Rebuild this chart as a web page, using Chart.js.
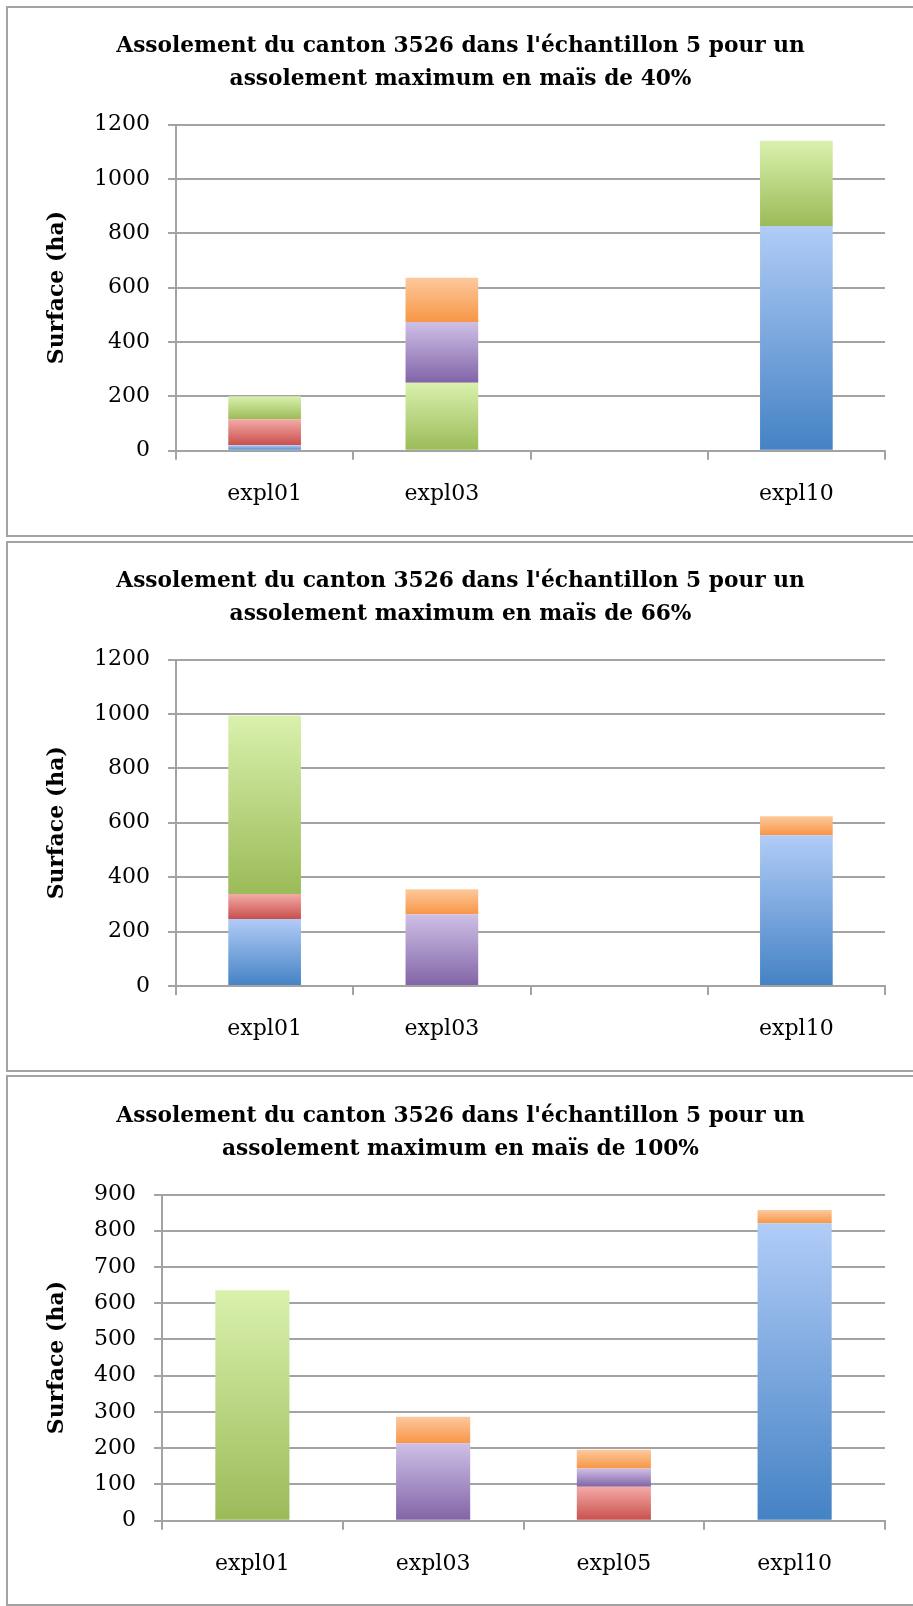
<!DOCTYPE html>
<html>
<head>
<meta charset="utf-8">
<script src="https://cdn.jsdelivr.net/npm/chart.js@4.4.0/dist/chart.umd.min.js"></script>
<style>
  body { margin: 0; background: #fff; width: 913px; height: 1606px; overflow: hidden; position: relative; }
  .panel { position: absolute; left: 6px; width: 905px; height: 527px; border: 2px solid #a3a3a3; background: #fff; }
  .panel canvas { display: block; }
</style>
</head>
<body>
<div class="panel" style="top:6px"><canvas id="chart40" width="905" height="527"></canvas></div>
<div class="panel" style="top:541px"><canvas id="chart66" width="905" height="527"></canvas></div>
<div class="panel" style="top:1075px"><canvas id="chart100" width="905" height="527"></canvas></div>

<script>
// series (no legend in the original, bottom to top of each stack)
const seriesNames = ['Série 1', 'Série 2', 'Série 3', 'Série 4', 'Série 5'];

// max 40% maize
const cats40 = ['expl01', 'expl03', '', 'expl10'];
const blue40 = [20, 0, 0, 827];
const red40 = [96, 0, 0, 0];
const green40 = [84, 250, 0, 313];
const purple40 = [0, 223, 0, 0];
const orange40 = [0, 163, 0, 0];

// max 66% maize
const cats66 = ['expl01', 'expl03', '', 'expl10'];
const blue66 = [246, 0, 0, 554];
const red66 = [92, 0, 0, 0];
const green66 = [656, 0, 0, 0];
const purple66 = [0, 263, 0, 0];
const orange66 = [0, 92, 0, 70];

// max 100% maize
const cats100 = ['expl01', 'expl03', 'expl05', 'expl10'];
const blue100 = [0, 0, 0, 821];
const red100 = [0, 0, 94, 0];
const green100 = [636, 0, 0, 0];
const purple100 = [0, 214, 50, 0];
const orange100 = [0, 73, 52, 36];

// y axis ticks
const yTicks1200 = [0, 200, 400, 600, 800, 1000, 1200];
const yTicks900 = [0, 100, 200, 300, 400, 500, 600, 700, 800, 900];

// light (top) / dark (bottom) colour of each series
const fills = [
    ['#b1ccf7', '#4482c4'],
    ['#f4aba8', '#c84f4c'],
    ['#d9f1ad', '#9bbb58'],
    ['#cec0e6', '#8264a7'],
    ['#fdc99d', '#f79646']
];

const gridGray = '#a3a3a3';

// vertical gradient over each stacked segment
function segmentFill(pair) {
    return (ctx) => {
        const chart = ctx.chart;
        const y = chart.scales.y;
        if (ctx.type !== 'data' || !y) return pair[1];
        let base = 0;
        for (let k = 0; k < ctx.datasetIndex; k++) {
            base += chart.data.datasets[k].data[ctx.dataIndex] || 0;
        }
        const top = y.getPixelForValue(base + (ctx.raw || 0));
        const bottom = y.getPixelForValue(base);
        if (!isFinite(top) || !isFinite(bottom) || top === bottom) return pair[1];
        const g = chart.ctx.createLinearGradient(0, top, 0, bottom);
        g.addColorStop(0, pair[0]);
        g.addColorStop(1, pair[1]);
        return g;
    };
}

function createChart(id, titleLines, cats, values, yTicks, box) {
    const datasets = values.map((vals, i) => ({
        label: seriesNames[i],
        data: vals,
        backgroundColor: segmentFill(fills[i]),
        borderWidth: 0,
        barPercentage: 0.41,
        categoryPercentage: 1
    }));

    return new Chart(document.getElementById(id), {
        type: 'bar',
        data: { labels: cats, datasets: datasets },
        options: {
            responsive: false,
            animation: false,
            layout: { padding: 0 },
            plugins: {
                legend: { display: false },
                tooltip: { enabled: false },
                title: {
                    display: true,
                    text: titleLines,
                    color: '#000',
                    font: { family: 'DejaVu Serif', size: 21.7, weight: 'bold', lineHeight: 1.5 },
                    padding: { top: box.titleTop, bottom: box.top - box.titleTop - 2 * 21.7 * 1.5 }
                }
            },
            scales: {
                x: {
                    stacked: true,
                    grid: { display: true, drawOnChartArea: false, drawTicks: true, tickLength: 9, color: gridGray, lineWidth: 2, offset: true },
                    border: { display: true, color: gridGray, width: 2 },
                    ticks: { color: '#000', padding: 21, font: { family: 'DejaVu Serif', size: 22 } },
                    afterFit: (scale) => { scale.height = 527 - box.bottom; }
                },
                y: {
                    stacked: true,
                    min: yTicks[0],
                    max: yTicks[yTicks.length - 1],
                    ticks: {
                        stepSize: yTicks[1] - yTicks[0],
                        color: '#000',
                        padding: 18,
                        font: { family: 'DejaVu Serif', size: 22 },
                        callback: (v) => String(v)
                    },
                    grid: { color: gridGray, lineWidth: 2, tickLength: 8 },
                    border: { display: true, color: gridGray, width: 2 },
                    title: {
                        display: true,
                        text: 'Surface (ha)',
                        color: '#000',
                        font: { family: 'DejaVu Serif', size: 22, weight: 'bold', lineHeight: 1.2 },
                        padding: { top: 36, bottom: 0 }
                    },
                    afterFit: (scale) => { scale.width = box.left; }
                },
                // empty right margin so the title stays centred on the whole panel
                yRight: {
                    type: 'linear',
                    position: 'right',
                    display: true,
                    grid: { display: false },
                    border: { display: false },
                    ticks: { display: false },
                    afterFit: (scale) => { scale.width = 905 - box.right; }
                }
            }
        }
    });
}

createChart('chart40',
    ["Assolement du canton 3526 dans l'échantillon 5 pour un", 'assolement maximum en maïs de 40%'],
    cats40, [blue40, red40, green40, purple40, orange40], yTicks1200,
    { left: 168, right: 877, top: 116.5, bottom: 442.7, titleTop: 22.5 });

createChart('chart66',
    ["Assolement du canton 3526 dans l'échantillon 5 pour un", 'assolement maximum en maïs de 66%'],
    cats66, [blue66, red66, green66, purple66, orange66], yTicks1200,
    { left: 168, right: 877, top: 116.5, bottom: 442.9, titleTop: 22.5 });

createChart('chart100',
    ["Assolement du canton 3526 dans l'échantillon 5 pour un", 'assolement maximum en maïs de 100%'],
    cats100, [blue100, red100, green100, purple100, orange100], yTicks900,
    { left: 154, right: 877, top: 117.5, bottom: 443.7, titleTop: 23.5 });
</script>
</body>
</html>
